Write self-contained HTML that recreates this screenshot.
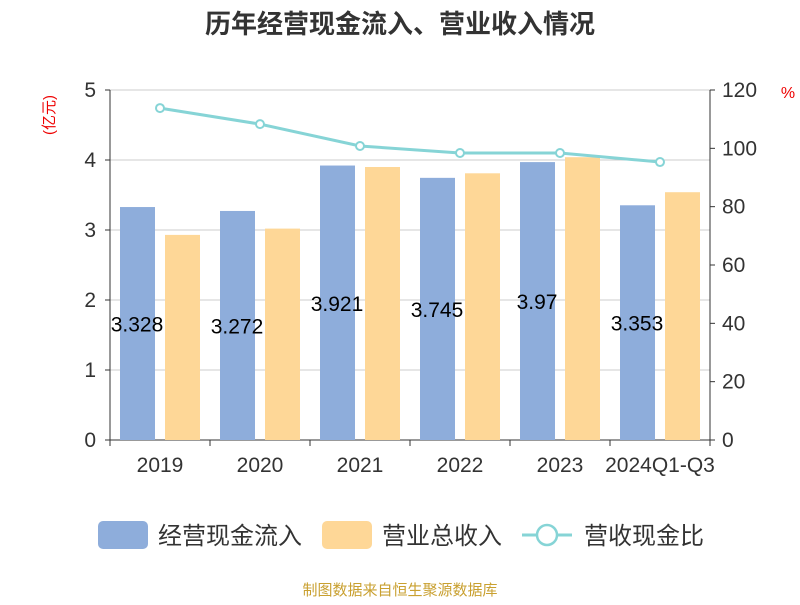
<!DOCTYPE html>
<html><head><meta charset="utf-8"><style>
body{margin:0;background:#fff;font-family:"Liberation Sans","Noto Sans CJK SC",sans-serif}
</style></head><body>
<svg id="c" width="800" height="600" xmlns="http://www.w3.org/2000/svg" font-family="Liberation Sans, Noto Sans CJK SC, sans-serif">
<text x="400" y="33" text-anchor="middle" font-size="26" font-weight="bold" fill="#333">历年经营现金流入、营业收入情况</text>
<text transform="translate(54,115) rotate(-90)" text-anchor="middle" font-size="15" fill="#e00">(亿元)</text>
<text x="788" y="98" text-anchor="middle" font-size="16" fill="#e00">%</text>
<g id="grid"></g><g id="bars"></g><g id="line"></g><g id="axes"></g>
<g font-size="24" fill="#333">
<rect x="98" y="521" width="50" height="28" rx="5" fill="#8eaddb"/>
<text x="158" y="544">经营现金流入</text>
<rect x="322" y="521" width="50" height="28" rx="5" fill="#fed797"/>
<text x="382" y="544">营业总收入</text>
<line x1="522" y1="535" x2="572" y2="535" stroke="#86d4d6" stroke-width="3"/>
<circle cx="547" cy="535" r="10" fill="#fff" stroke="#86d4d6" stroke-width="2.5"/>
<text x="584" y="544">营收现金比</text>
</g>
<text x="400" y="595" text-anchor="middle" font-size="15" fill="#c9a030">制图数据来自恒生聚源数据库</text>
</svg>
<script>
const categories=["2019","2020","2021","2022","2023","2024Q1-Q3"];
const cashIn=[3.328,3.272,3.921,3.745,3.97,3.353];
const revenue=[2.93,3.02,3.9,3.81,4.04,3.54];
const ratio=[113.8,108.3,100.8,98.4,98.4,95.3];
const leftTicks=[0,1,2,3,4,5];
const rightTicks=[0,20,40,60,80,100,120];
const NS="http://www.w3.org/2000/svg";
const L=110,R=710,T=90,B=440;
const yL=v=>B-(v/5)*(B-T), yR=v=>B-(v/120)*(B-T);
const bw=(R-L)/categories.length, xC=i=>L+bw*(i+0.5);
function mk(p,tag,a,txt){const e=document.createElementNS(NS,tag);for(const k in a)e.setAttribute(k,a[k]);if(txt!=null)e.textContent=txt;document.getElementById(p).appendChild(e);return e;}
leftTicks.forEach(t=>{
 const g=mk('grid','line',{x1:L,x2:R,y1:yL(t),y2:yL(t),stroke:t===0?'#333':'#ccc','stroke-width':1});
 
 const l=mk('axes','text',{x:L-14,y:yL(t)+7,'text-anchor':'end','font-size':21,fill:'#333'},t);
 
 mk('axes','line',{x1:L-5,x2:L,y1:yL(t),y2:yL(t),stroke:'#333'});
});
rightTicks.forEach(t=>{
 const l=mk('axes','text',{x:R+12,y:yR(t)+7,'font-size':21,fill:'#333'},t);
 
 mk('axes','line',{x1:R,x2:R+5,y1:yR(t),y2:yR(t),stroke:'#333'});
});
mk('axes','line',{x1:L,x2:L,y1:T,y2:B,stroke:'#333'});
mk('axes','line',{x1:R,x2:R,y1:T,y2:B,stroke:'#333'});
categories.forEach((c,i)=>{
 mk('axes','line',{x1:L+bw*i,x2:L+bw*i,y1:B,y2:B+6,stroke:'#333'});
 const l=mk('axes','text',{x:xC(i),y:B+32,'text-anchor':'middle','font-size':21,fill:'#333'},c);
 
 const b1=mk('bars','rect',{x:xC(i)-40,y:yL(cashIn[i]),width:35,height:B-yL(cashIn[i]),fill:'#8eaddb'});
 
 const b2=mk('bars','rect',{x:xC(i)+5,y:yL(revenue[i]),width:35,height:B-yL(revenue[i]),fill:'#fed797'});
 
 const v=mk('bars','text',{x:xC(i)-23,y:(yL(cashIn[i])+B)/2+8,'text-anchor':'middle','font-size':21,fill:'#000'},cashIn[i]);
 
});
mk('axes','line',{x1:R,x2:R,y1:B,y2:B+6,stroke:'#333'});
const pl=mk('line','polyline',{points:ratio.map((v,i)=>xC(i)+','+yR(v)).join(' '),fill:'none',stroke:'#86d4d6','stroke-width':3});

ratio.forEach((v,i)=>{const p=mk('line','circle',{cx:xC(i),cy:yR(v),r:4,fill:'#fff',stroke:'#86d4d6','stroke-width':2});
 });
</script>
</body></html>
